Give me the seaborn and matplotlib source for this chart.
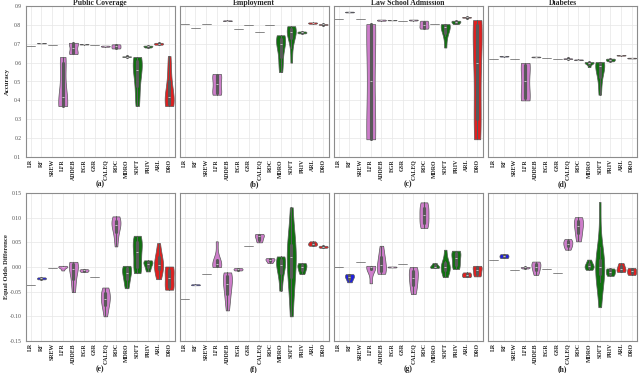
import pandas as pd
import matplotlib
matplotlib.use("Agg")
import matplotlib.pyplot as plt
import seaborn as sns

# metodos y grupos de color
metodos = ['LR', 'RF', 'SREW', 'LFR', 'ADDEB', 'EGR', 'GSR', 'CALEQ', 'ROC',
           'MDRO', 'SOFT', 'PRIV', 'ARL', 'DRO']
colores = ['blue', 'blue', 'blue', 'orchid', 'orchid', 'orchid', 'orchid',
           'orchid', 'orchid', 'green', 'green', 'green', 'red', 'red']

titulos = ['Public Coverage', 'Employment', 'Law School Admission', 'Diabetes']
etiquetas = ['(a)', '(b)', '(c)', '(d)', '(e)', '(f)', '(g)', '(h)']

# Accuracy (fila superior), una lista por metodo
acc_public = [
    [0.690], [0.702, 0.703, 0.704], [0.695],
    [0.37, 0.37, 0.37, 0.38, 0.42, 0.50, 0.60, 0.63, 0.63],
    [0.645, 0.648, 0.66, 0.70, 0.703, 0.705],
    [0.696, 0.697, 0.698], [0.695],
    [0.684, 0.686, 0.688, 0.690],
    [0.675, 0.678, 0.686, 0.694, 0.697],
    [0.631, 0.632, 0.633],
    [0.37, 0.40, 0.45, 0.50, 0.53, 0.56, 0.58, 0.60, 0.62, 0.63, 0.63],
    [0.680, 0.684, 0.688, 0.690],
    [0.695, 0.698, 0.702, 0.705],
    [0.37, 0.37, 0.38, 0.40, 0.42, 0.45, 0.50, 0.57, 0.635],
]
acc_employment = [
    [0.802], [0.784], [0.802],
    [0.43, 0.43, 0.44, 0.47, 0.50, 0.53, 0.54, 0.54],
    [0.820, 0.822, 0.824], [0.779], [0.800], [0.763], [0.800],
    [0.55, 0.58, 0.62, 0.66, 0.69, 0.71, 0.72, 0.73, 0.74, 0.745],
    [0.60, 0.68, 0.73, 0.75, 0.76, 0.77, 0.78, 0.79, 0.793],
    [0.755, 0.758, 0.762, 0.765],
    [0.806, 0.810, 0.813],
    [0.800, 0.802, 0.804],
]
acc_law = [
    [0.829], [0.866, 0.868, 0.870], [0.829],
    [0.194, 0.194, 0.194, 0.5, 0.804, 0.804, 0.804],
    [0.822, 0.825, 0.828], [0.824, 0.825, 0.826], [0.820],
    [0.823, 0.826, 0.828],
    [0.78, 0.782, 0.79, 0.80, 0.81, 0.82, 0.822],
    [0.802],
    [0.68, 0.74, 0.77, 0.79, 0.80, 0.803, 0.804],
    [0.804, 0.81, 0.815, 0.82, 0.822],
    [0.838, 0.840, 0.842],
    [0.194, 0.2, 0.3, 0.45, 0.6, 0.75, 0.8, 0.82, 0.825],
]
acc_diabetes = [
    [0.621], [0.632, 0.634, 0.636], [0.621],
    [0.40, 0.40, 0.42, 0.50, 0.58, 0.598, 0.598],
    [0.628, 0.630, 0.632], [0.624], [0.617],
    [0.619, 0.621, 0.623], [0.613, 0.615, 0.617],
    [0.576, 0.595, 0.600, 0.602, 0.603],
    [0.43, 0.50, 0.55, 0.58, 0.595, 0.600, 0.603],
    [0.607, 0.612, 0.618, 0.621],
    [0.637, 0.639, 0.641],
    [0.622, 0.624, 0.626],
]

# Equal Odds Difference (fila inferior)
eod_public = [
    [-0.0355], [-0.025, -0.023, -0.021], [-0.003],
    [-0.007, -0.001, 0.0, 0.001, 0.0024],
    [-0.051, -0.035, -0.02, -0.008, 0.0, 0.005, 0.009, 0.0105],
    [-0.010, -0.008, -0.006, -0.0044], [-0.021],
    [-0.100, -0.085, -0.075, -0.068, -0.062, -0.055, -0.048, -0.0416],
    [0.0417, 0.06, 0.075, 0.082, 0.088, 0.093, 0.098, 0.1026],
    [-0.043, -0.030, -0.020, -0.012, -0.005, 0.0, 0.0024],
    [-0.0125, -0.008, 0.0, 0.015, 0.030, 0.042, 0.050, 0.056, 0.0633],
    [-0.009, -0.002, 0.005, 0.009, 0.011, 0.0135],
    [-0.0247, -0.015, -0.005, 0.0, 0.005, 0.012, 0.020, 0.030, 0.0484],
    [-0.046, -0.044, -0.03, -0.015, -0.002, 0.001],
]
eod_employment = [
    [-0.065], [-0.037, -0.036, -0.035], [-0.0145],
    [0.0, 0.001, 0.004, 0.008, 0.015, 0.052],
    [-0.088, -0.07, -0.055, -0.045, -0.035, -0.025, -0.018, -0.013, -0.011],
    [-0.007, -0.0045, -0.002], [0.0417],
    [0.05, 0.055, 0.062, 0.065, 0.067],
    [0.008, 0.013, 0.016, 0.018],
    [-0.048, -0.02, -0.005, 0.005, 0.012, 0.018, 0.0214],
    [-0.10, -0.05, -0.02, 0.0, 0.02, 0.03, 0.045, 0.06, 0.121],
    [-0.0145, -0.008, -0.003, 0.002, 0.006, 0.008],
    [0.043, 0.046, 0.048, 0.052],
    [0.039, 0.041, 0.043],
]
eod_law = [
    [0.0], [-0.031, -0.022, -0.018, -0.0145], [0.0105],
    [-0.033, -0.005, 0.0, 0.001, 0.0024],
    [-0.0138, -0.010, -0.005, 0.005, 0.015, 0.025, 0.043],
    [-0.001, 0.0, 0.001], [0.0065],
    [-0.055, -0.042, -0.032, -0.022, -0.012, -0.005, 0.0],
    [0.079, 0.085, 0.095, 0.105, 0.115, 0.125, 0.131],
    [-0.002, 0.0, 0.002, 0.008],
    [-0.0206, -0.01, -0.003, 0.0, 0.004, 0.012, 0.035],
    [-0.004, 0.0, 0.008, 0.018, 0.026, 0.031, 0.033],
    [-0.0206, -0.018, -0.014, -0.011],
    [-0.019, -0.015, -0.006, 0.0, 0.0024],
]
eod_diabetes = [
    [0.0146], [0.018, 0.022, 0.026], [-0.007],
    [-0.003, -0.001, 0.0],
    [-0.016, -0.008, -0.002, 0.004, 0.008, 0.011],
    [-0.004], [-0.0125],
    [0.035, 0.042, 0.047, 0.052, 0.0566],
    [0.052, 0.065, 0.078, 0.088, 0.095, 0.101],
    [-0.0057, -0.001, 0.002, 0.006, 0.015],
    [-0.0815, -0.03, -0.015, -0.008, 0.0, 0.005, 0.015, 0.04, 0.132],
    [-0.018, -0.014, -0.01, -0.005, -0.003],
    [-0.01, -0.008, -0.004, 0.002, 0.008],
    [-0.016, -0.012, -0.006, -0.002],
]

fila_acc = [acc_public, acc_employment, acc_law, acc_diabetes]
fila_eod = [eod_public, eod_employment, eod_law, eod_diabetes]


def a_tabla(listas):
    filas = []
    for m, vals in zip(metodos, listas):
        for v in vals:
            filas.append({'metodo': m, 'valor': v})
    return pd.DataFrame(filas)


sns.set_style("whitegrid")
plt.rcParams['font.family'] = ['Liberation Serif', 'DejaVu Serif']
plt.rcParams['axes.unicode_minus'] = False

fig = plt.figure(figsize=(6.4, 3.73), dpi=100)
W, H = 640, 373
lefts = [25.5, 179.5, 333.5, 488]
ancho = 149

paleta = dict(zip(metodos, colores))

for fila in range(2):
    datos_fila = fila_acc if fila == 0 else fila_eod
    if fila == 0:
        y0, alto = 373 - 157, 151
    else:
        y0, alto = 373 - 341, 148
    for col in range(4):
        ax = fig.add_axes([lefts[col] / W, y0 / H, ancho / W, alto / H])
        df = a_tabla(datos_fila[col])
        sns.violinplot(data=df, x='metodo', y='valor', hue='metodo', order=metodos,
                       palette=paleta, cut=0, inner='box', density_norm='width',
                       width=0.85, linewidth=0.5, linecolor='0.35', legend=False, ax=ax)
        ax.set_xlim(-0.5, 13.5)
        if fila == 0:
            ax.set_ylim(0.1, 0.9)
            ax.set_yticks([0.1, 0.2, 0.3, 0.4, 0.5, 0.6, 0.7, 0.8, 0.9])
            ax.set_yticklabels(['0.1', '0.2', '0.3', '0.4', '0.5', '0.6', '0.7',
                                '0.8', '0.9'])
            ax.set_title(titulos[col], fontsize=5.5, fontweight='bold', pad=1)
            lab_y = -(184 - 157) / alto
        else:
            ax.set_ylim(-0.15, 0.15)
            ax.set_yticks([-0.15, -0.10, -0.05, 0.0, 0.05, 0.10, 0.15])
            ax.set_yticklabels(['-0.15', '-0.10', '-0.05', '0.00',
                                '0.05', '0.10', '0.15'])
            lab_y = -(369 - 341) / alto
        ax.set_xticks(range(len(metodos)))
        ax.set_xticklabels(metodos, rotation=90, fontsize=4.2, fontweight='bold')
        ax.tick_params(axis='x', length=0, pad=1.5)
        ax.tick_params(axis='y', labelsize=4.1, length=2, width=0.5, pad=1,
                       labelcolor='0.3', color='0.4')
        ax.set_xlabel('')
        if col == 0:
            ax.set_ylabel('Accuracy' if fila == 0 else 'Equal Odds Difference',
                          fontsize=4.8, fontweight='bold')
            ax.yaxis.set_label_coords(-(25.5 - 9.5) / ancho, 0.5)
        else:
            ax.set_ylabel('')
            ax.set_yticklabels([])
            ax.tick_params(axis='y', length=0)
        ax.grid(True, color='0.9', linewidth=0.5)
        for s in ax.spines.values():
            s.set_color('0.55')
            s.set_linewidth(0.8)
        ax.text(0.5, lab_y, etiquetas[fila * 4 + col], transform=ax.transAxes,
                ha='center', va='center', fontsize=5.5, fontweight='bold')

fig.savefig('out.png', dpi=100)
